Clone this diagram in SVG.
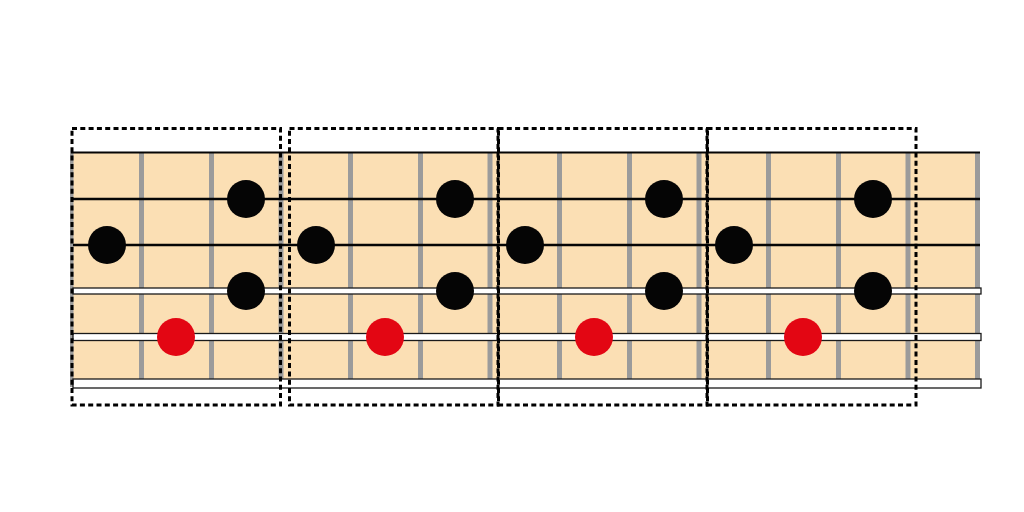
<svg xmlns="http://www.w3.org/2000/svg" width="1024" height="512" viewBox="0 0 1024 512">
<style>
.fret{fill:#9b9b9b}
.wire{stroke:#050505;stroke-width:2.4;fill:none}
.wound{fill:#ffffff;stroke:#1a1a1a;stroke-width:1.3}
.note{fill:#050505}
.root{fill:#e30613}
.box{fill:none;stroke:#000;stroke-width:3;stroke-dasharray:5 3.3}
</style>
<rect width="1024" height="512" fill="#ffffff"/>
<g id="fretboard">
<rect x="71" y="152" width="909" height="232" fill="#fbdfb4"/>
<rect class="fret" x="70" y="152" width="3.5" height="235"/>
<rect class="fret" x="139" y="152" width="5" height="228"/>
<rect class="fret" x="209" y="152" width="5" height="228"/>
<rect class="fret" x="278.5" y="152" width="5" height="228"/>
<rect class="fret" x="348" y="152" width="5" height="228"/>
<rect class="fret" x="418" y="152" width="5" height="228"/>
<rect class="fret" x="487.5" y="152" width="5" height="228"/>
<rect class="fret" x="557" y="152" width="5" height="228"/>
<rect class="fret" x="627" y="152" width="5" height="228"/>
<rect class="fret" x="696.5" y="152" width="5" height="228"/>
<rect class="fret" x="766" y="152" width="5" height="228"/>
<rect class="fret" x="836" y="152" width="5" height="228"/>
<rect class="fret" x="905.5" y="152" width="5" height="228"/>
<rect class="fret" x="975" y="152" width="5" height="228"/>
</g>
<g id="strings">
<line x1="71" y1="152.5" x2="980" y2="152.5" stroke="#050505" stroke-width="2"/>
<line class="wire" x1="73" y1="199" x2="980" y2="199"/>
<line class="wire" x1="73" y1="245" x2="980" y2="245"/>
<rect class="wound" x="73" y="288" width="908" height="6"/>
<rect class="wound" x="73" y="333.5" width="908" height="7"/>
<rect class="wound" x="73" y="379" width="908" height="9"/>
</g>
<g id="notes">
<circle class="note" cx="107" cy="245" r="19"/>
<circle class="root" cx="176" cy="337" r="19"/>
<circle class="note" cx="246" cy="199" r="19"/>
<circle class="note" cx="246" cy="291" r="19"/>
<circle class="note" cx="316" cy="245" r="19"/>
<circle class="root" cx="385" cy="337" r="19"/>
<circle class="note" cx="455" cy="199" r="19"/>
<circle class="note" cx="455" cy="291" r="19"/>
<circle class="note" cx="525" cy="245" r="19"/>
<circle class="root" cx="594" cy="337" r="19"/>
<circle class="note" cx="664" cy="199" r="19"/>
<circle class="note" cx="664" cy="291" r="19"/>
<circle class="note" cx="734" cy="245" r="19"/>
<circle class="root" cx="803" cy="337" r="19"/>
<circle class="note" cx="873" cy="199" r="19"/>
<circle class="note" cx="873" cy="291" r="19"/>
</g>
<g id="positions">
<rect class="box" x="72" y="128.5" width="208.5" height="276.5"/>
<rect class="box" x="289.5" y="128.5" width="208.5" height="276.5"/>
<rect class="box" x="498.5" y="128.5" width="208.5" height="276.5"/>
<rect class="box" x="707.5" y="128.5" width="208.5" height="276.5"/>
</g>
</svg>
